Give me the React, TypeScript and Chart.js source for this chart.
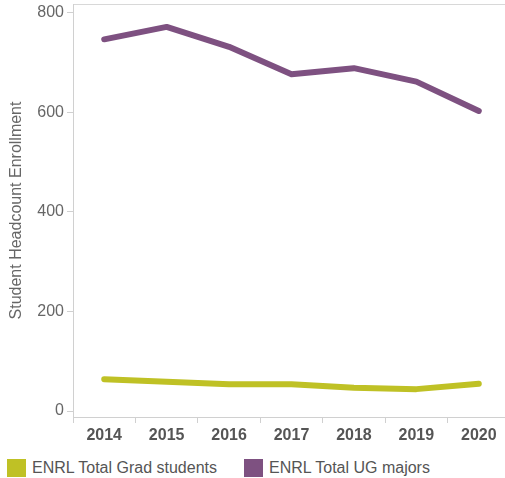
import React, { useEffect, useRef } from "react";
import { Chart, registerables } from "chart.js";

Chart.register(...registerables);

const years = ["2014", "2015", "2016", "2017", "2018", "2019", "2020"];
const gradStudents = [64, 59, 54, 54, 47, 44, 55];
const ugMajors = [747, 772, 732, 677, 689, 662, 603];
const yTicks = [0, 200, 400, 600, 800];

const GRAD_COLOR = "#bfc125";
const UG_COLOR = "#7e5181";
const FONT = "'Liberation Sans', Arial, sans-serif";

export default function App() {
  const ref = useRef<HTMLCanvasElement | null>(null);

  useEffect(() => {
    if (!ref.current) return;
    const chart = new Chart(ref.current, {
      type: "line",
      data: {
        labels: years,
        datasets: [
          {
            label: "ENRL Total Grad students",
            data: gradStudents,
            borderColor: GRAD_COLOR,
            backgroundColor: GRAD_COLOR,
            borderWidth: 6,
            pointRadius: 0,
            tension: 0,
            borderCapStyle: "round",
            borderJoinStyle: "round",
          },
          {
            label: "ENRL Total UG majors",
            data: ugMajors,
            borderColor: UG_COLOR,
            backgroundColor: UG_COLOR,
            borderWidth: 6,
            pointRadius: 0,
            tension: 0,
            borderCapStyle: "round",
            borderJoinStyle: "round",
          },
        ],
      },
      options: {
        responsive: false,
        animation: false,
        devicePixelRatio: 1,
        layout: { padding: { top: 4, left: 0, right: 2, bottom: 0 } },
        plugins: {
          legend: { display: false },
          tooltip: { enabled: false },
        },
        scales: {
          x: {
            type: "category",
            offset: true,
            grid: {
              offset: true,
              drawOnChartArea: false,
              tickLength: 6,
              color: "#d0d0d0",
            },
            border: { color: "#d0d0d0" },
            ticks: {
              color: "#555555",
              font: { family: FONT, size: 16, weight: "bold" },
              padding: 3,
              maxRotation: 0,
            },
            afterFit: (axis: any) => {
              axis.height = 33;
            },
          },
          xTop: {
            type: "category",
            position: "top",
            offset: true,
            grid: { display: false },
            border: { display: true, color: "#d8d8d8" },
            ticks: { display: false },
            afterFit: (axis: any) => {
              axis.height = 0;
              axis.paddingLeft = 0;
              axis.paddingRight = 0;
            },
          },
          y: {
            type: "linear",
            min: -12,
            max: 818,
            grid: {
              drawOnChartArea: false,
              tickLength: 6,
              color: "#d0d0d0",
            },
            border: { color: "#d0d0d0" },
            afterBuildTicks: (axis: any) => {
              axis.ticks = yTicks.map((v) => ({ value: v }));
            },
            ticks: {
              color: "#666666",
              font: { family: FONT, size: 16 },
              padding: 3,
            },
            title: {
              display: true,
              text: "Student Headcount Enrollment",
              color: "#666666",
              font: { family: FONT, size: 16 },
              padding: { top: 7, bottom: 0 },
            },
            afterFit: (axis: any) => {
              axis.width = 73;
              axis.paddingTop = 0;
              axis.paddingBottom = 0;
            },
          },
        },
      },
    });
    return () => chart.destroy();
  }, []);

  const legendItems = [
    { label: "ENRL Total Grad students", color: GRAD_COLOR },
    { label: "ENRL Total UG majors", color: UG_COLOR },
  ];

  return (
    <div
      style={{
        position: "fixed",
        left: 0,
        top: 0,
        width: 505,
        height: 478,
        overflow: "hidden",
        background: "#fff",
      }}
    >
      <canvas
        ref={ref}
        width={512}
        height={450}
        style={{ position: "absolute", left: 0, top: 0, width: 512, height: 450 }}
      />
      <div
        style={{
          position: "absolute",
          left: 7,
          top: 459,
          display: "flex",
          alignItems: "center",
          fontFamily: FONT,
          fontSize: 16,
          color: "#555555",
          whiteSpace: "nowrap",
          lineHeight: "18px",
        }}
      >
        {legendItems.map((it, i) => (
          <div
            key={it.label}
            style={{ display: "flex", alignItems: "center", marginLeft: i === 0 ? 0 : 27 }}
          >
            <span
              style={{
                display: "inline-block",
                width: 19,
                height: 18,
                background: it.color,
                marginRight: 6,
              }}
            />
            <span>{it.label}</span>
          </div>
        ))}
      </div>
    </div>
  );
}
